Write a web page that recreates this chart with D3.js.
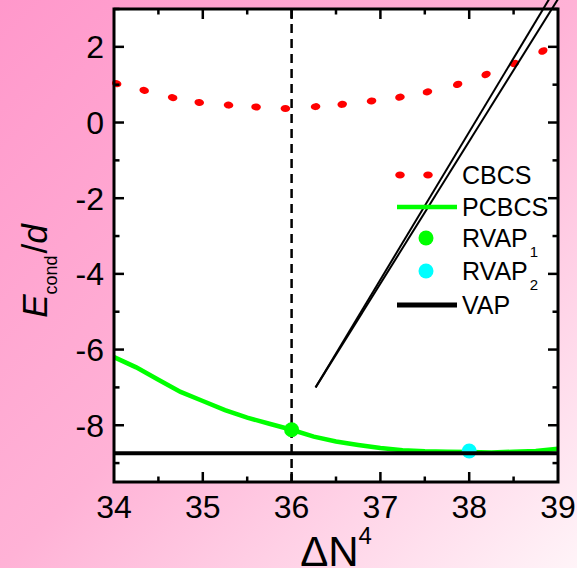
<!DOCTYPE html>
<meta charset="utf-8">
<style>
  body { margin: 0; }
  svg { display: block; font-family: "Liberation Sans", Arial, sans-serif; }
  .frame { fill: none; stroke: #000; stroke-width: 3px; }
  .tick { stroke: #000; stroke-width: 2.5px; }
  .tickLabel { font-size: 32px; fill: #000; }
  .legendText { font-size: 25px; fill: #000; }
</style>
<body>
<script src="https://cdn.jsdelivr.net/npm/d3@7/dist/d3.min.js"></script>
<script>

  // CBCS (dotted red curve)
  var cbcsX = [34.03, 34.34, 34.66, 34.96, 35.29, 35.6, 35.93, 36.27, 36.57, 36.9, 37.22, 37.53, 37.87, 38.19, 38.51, 38.83];
  var cbcsY = [1.03, 0.85, 0.66, 0.53, 0.46, 0.41, 0.37, 0.42, 0.48, 0.57, 0.67, 0.81, 1.01, 1.27, 1.56, 1.89];

  // PCBCS (green curve)
  var pcbcsX = [34, 34.25, 34.5, 34.75, 35, 35.25, 35.5, 35.75, 36, 36.25, 36.5, 36.75, 37, 37.25, 37.5, 37.75, 38, 38.25, 38.5, 38.75, 39];
  var pcbcsY = [-6.2, -6.47, -6.8, -7.12, -7.36, -7.6, -7.8, -7.96, -8.12, -8.3, -8.43, -8.52, -8.6, -8.66, -8.69, -8.7, -8.71, -8.72, -8.7, -8.68, -8.62];

  var rvap1 = [36, -8.12];
  var rvap2 = [38, -8.68];
  var vapY = -8.74;
  var markerX = 36;

  // the two black slanted lines
  var lineAX = [36.27, 38.91], lineAY = [-7.0, 3.3];
  var lineBX = [36.27, 39.01], lineBY = [-7.0, 3.3];

  var xTicks = [34, 35, 36, 37, 38, 39];
  var xMinor = [34.5, 35.5, 36.5, 37.5, 38.5];
  var yTicks = [2, 0, -2, -4, -6, -8];
  var yMinor = [3, 1, -1, -3, -5, -7, -9];

  var legendNames = ["CBCS", "PCBCS", "RVAP", "RVAP", "VAP"];
  var legendSubs = ["", "", "1", "2", ""];

  var W = 577, H = 568;
  var pL = 114, pR = 558, pT = 9, pB = 482;

  var x = d3.scaleLinear().domain([34, 39]).range([pL, pR]);
  var y = d3.scaleLinear().domain([-9.5, 3]).range([pB, pT]);

  var svg = d3.select("body").append("svg").attr("width", W).attr("height", H);

  var grad = svg.append("defs").append("linearGradient")
    .attr("id", "bg").attr("x1", 0).attr("y1", 0).attr("x2", 1).attr("y2", 1);
  grad.append("stop").attr("offset", "0").attr("stop-color", "#ff98cb");
  grad.append("stop").attr("offset", "0.5").attr("stop-color", "#ffb2d6");
  grad.append("stop").attr("offset", "1").attr("stop-color", "#fff4f8");

  svg.append("rect").attr("width", W).attr("height", H).attr("fill", "url(#bg)");
  svg.append("rect")
    .attr("x", pL).attr("y", pT)
    .attr("width", pR - pL).attr("height", pB - pT)
    .attr("fill", "#fff");

  var plot = svg.append("g");

  // CBCS dots, stretched along the curve
  plot.selectAll(".cbcs").data(cbcsX).enter().append("ellipse")
    .attr("class", "cbcs")
    .attr("rx", 4.8).attr("ry", 3.5)
    .attr("fill", "#ff0000")
    .attr("transform", function(d, i) {
      var a = Math.max(i - 1, 0), b = Math.min(i + 1, cbcsX.length - 1);
      var ang = Math.atan2(y(cbcsY[b]) - y(cbcsY[a]), x(cbcsX[b]) - x(cbcsX[a])) * 180 / Math.PI;
      return "translate(" + x(d) + "," + y(cbcsY[i]) + ") rotate(" + ang + ")";
    });

  // PCBCS
  plot.append("path")
    .datum(pcbcsX.map(function(d, i) { return [d, pcbcsY[i]]; }))
    .attr("fill", "none").attr("stroke", "#00ff00").attr("stroke-width", 4.5)
    .attr("d", d3.line().x(function(d) { return x(d[0]); }).y(function(d) { return y(d[1]); }));

  // dashed marker line
  plot.append("line")
    .attr("x1", x(markerX)).attr("x2", x(markerX))
    .attr("y1", y(3)).attr("y2", y(-9.5) + 7)
    .attr("stroke", "#000").attr("stroke-width", 2.5)
    .attr("stroke-dasharray", "9,6");

  // RVAP points
  plot.append("circle").attr("cx", x(rvap1[0])).attr("cy", y(rvap1[1])).attr("r", 7.5).attr("fill", "#00ff00");
  plot.append("circle").attr("cx", x(rvap2[0])).attr("cy", y(rvap2[1])).attr("r", 7.5).attr("fill", "#00ffff");

  // VAP
  plot.append("line")
    .attr("x1", x(34)).attr("x2", x(39))
    .attr("y1", y(vapY)).attr("y2", y(vapY))
    .attr("stroke", "#000").attr("stroke-width", 4);

  // slanted lines
  [[lineAX, lineAY], [lineBX, lineBY]].forEach(function(l) {
    plot.append("line")
      .attr("x1", x(l[0][0])).attr("y1", y(l[1][0]))
      .attr("x2", x(l[0][1])).attr("y2", y(l[1][1]))
      .attr("stroke", "#000").attr("stroke-width", 2);
  });

  // frame
  svg.append("rect").attr("class", "frame")
    .attr("x", pL).attr("y", pT)
    .attr("width", pR - pL).attr("height", pB - pT);

  // ticks, all pointing inward, mirrored on top and right
  var ticks = svg.append("g");
  function xt(vals, len) {
    vals.forEach(function(v) {
      ticks.append("line").attr("class", "tick").attr("x1", x(v)).attr("x2", x(v)).attr("y1", pB).attr("y2", pB - len);
      ticks.append("line").attr("class", "tick").attr("x1", x(v)).attr("x2", x(v)).attr("y1", pT).attr("y2", pT + len);
    });
  }
  function yt(vals, len) {
    vals.forEach(function(v) {
      ticks.append("line").attr("class", "tick").attr("y1", y(v)).attr("y2", y(v)).attr("x1", pL).attr("x2", pL + len);
      ticks.append("line").attr("class", "tick").attr("y1", y(v)).attr("y2", y(v)).attr("x1", pR).attr("x2", pR - len);
    });
  }
  xt(xTicks.slice(1, -1), 10);
  xt(xMinor, 5.5);
  yt(yTicks, 10);
  yt(yMinor, 5.5);

  svg.selectAll(".xl").data(xTicks).enter().append("text")
    .attr("class", "tickLabel")
    .attr("x", function(d) { return x(d); }).attr("y", 518)
    .attr("text-anchor", "middle")
    .text(function(d) { return d; });

  svg.selectAll(".yl").data(yTicks).enter().append("text")
    .attr("class", "tickLabel")
    .attr("x", 104).attr("y", function(d) { return y(d) + 11.5; })
    .attr("text-anchor", "end")
    .text(function(d) { return d; });

  // axis titles
  var xTitle = svg.append("text").attr("x", 336).attr("y", 566)
    .attr("text-anchor", "middle").attr("font-size", 42);
  xTitle.append("tspan").text("\u0394N");
  xTitle.append("tspan").attr("font-size", 24).attr("dy", -22).text("4");

  var yTitle = svg.append("text")
    .attr("transform", "translate(46.5,271) rotate(-90)")
    .attr("text-anchor", "middle").attr("font-size", 35);
  yTitle.append("tspan").attr("font-style", "italic").text("E");
  yTitle.append("tspan").attr("font-size", 18).attr("dy", 10).text("cond");
  yTitle.append("tspan").attr("dy", -10).attr("dx", 2).text("/");
  yTitle.append("tspan").attr("font-style", "italic").text("d");

  // legend
  var rowY = [175, 207, 238, 271, 305];
  var leg = svg.append("g");
  [400, 428].forEach(function(cx) {
    leg.append("ellipse").attr("cx", cx).attr("cy", rowY[0]).attr("rx", 4.8).attr("ry", 3.5).attr("fill", "#ff0000");
  });
  leg.append("line").attr("x1", 397).attr("x2", 457).attr("y1", rowY[1]).attr("y2", rowY[1])
    .attr("stroke", "#00ff00").attr("stroke-width", 4.5);
  leg.append("circle").attr("cx", 426).attr("cy", rowY[2]).attr("r", 7.5).attr("fill", "#00ff00");
  leg.append("circle").attr("cx", 426).attr("cy", rowY[3]).attr("r", 7.5).attr("fill", "#00ffff");
  leg.append("line").attr("x1", 397).attr("x2", 457).attr("y1", rowY[4]).attr("y2", rowY[4])
    .attr("stroke", "#000").attr("stroke-width", 5);

  legendNames.forEach(function(n, i) {
    var t = leg.append("text").attr("class", "legendText").attr("x", 462).attr("y", rowY[i] + 9);
    t.append("tspan").text(n);
    if (legendSubs[i]) t.append("tspan").attr("font-size", 15).attr("dx", 2).attr("dy", 10).text(legendSubs[i]);
  });

</script>
</body>
